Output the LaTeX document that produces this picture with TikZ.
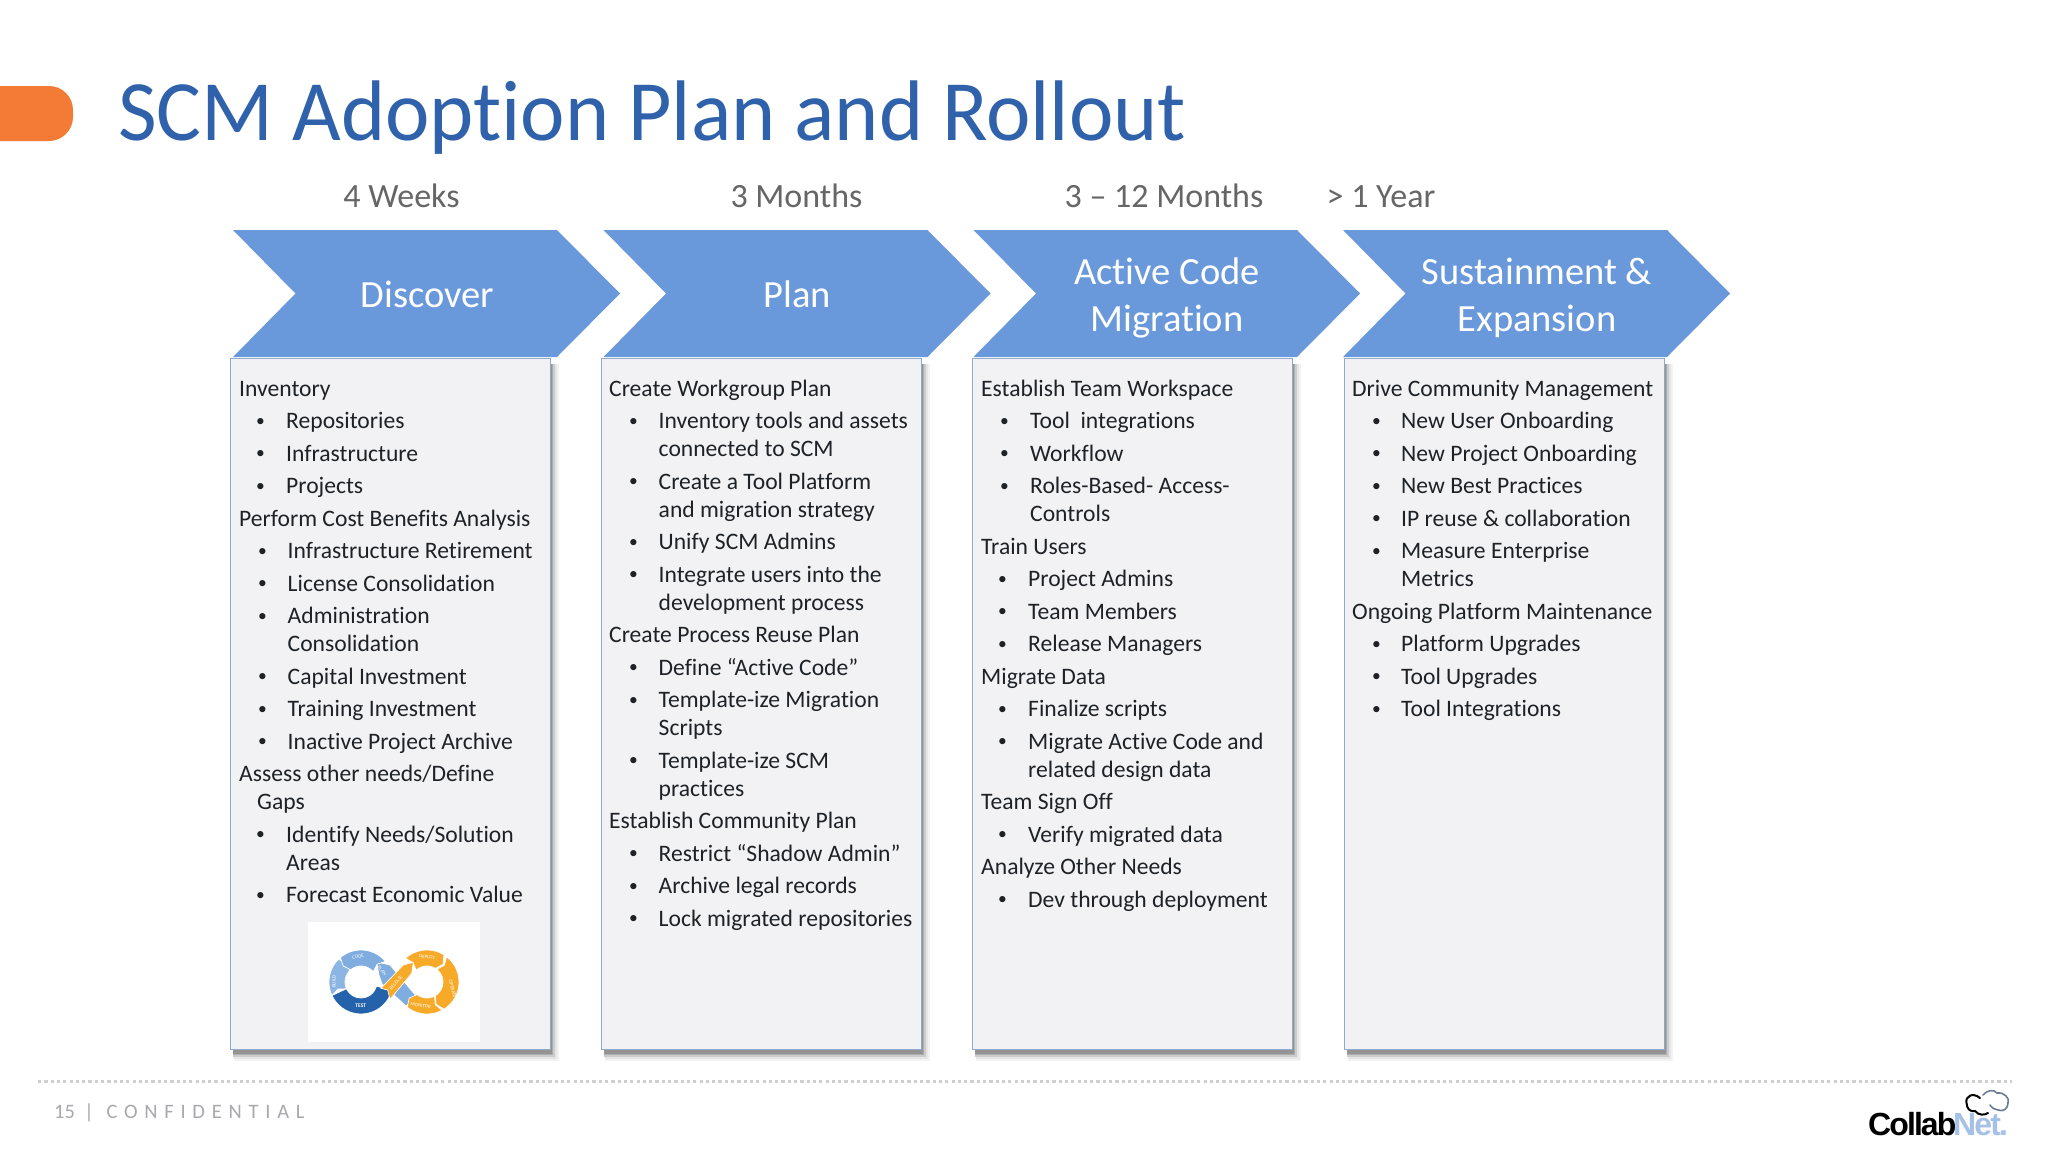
\documentclass[tikz,border=0pt]{standalone}
\usepackage{fontspec}
\setmainfont[Ligatures=NoCommon]{Carlito}
\newfontfamily\titlefont[Ligatures=NoCommon,FakeStretch=0.978]{Carlito}
\newfontfamily\logofont{Liberation Sans}
\definecolor{titleblue}{HTML}{2F62AB}
\definecolor{chev}{HTML}{6A99DB}
\definecolor{orangetab}{HTML}{F47B36}
\definecolor{boxfill}{HTML}{F2F2F5}
\definecolor{boxline}{HTML}{8FAACB}
\definecolor{ink}{HTML}{1E2126}
\definecolor{period}{HTML}{666666}
\definecolor{foot}{HTML}{A9A9AD}
\definecolor{dotline}{HTML}{CFCFCF}
\definecolor{ringlight}{HTML}{7FADE0}
\definecolor{ringdark}{HTML}{2463AC}
\definecolor{ringor}{HTML}{F7A928}
\definecolor{netblue}{HTML}{A6C1E8}
\tikzset{
  chevshape/.style={fill=chev,draw=none},
  chevlabel/.style={text=white,font=\fontsize{38.5}{38.5}\selectfont,anchor=base,inner sep=0pt},
  periodlabel/.style={text=period,font=\fontsize{34}{34}\selectfont,anchor=base,inner sep=0pt},
  bodyline/.style={text=ink,font=\fontsize{23.6}{23.6}\selectfont,anchor=base west,inner sep=0pt},
  bodybullet/.style={text=ink,font=\fontsize{17.5}{17.5}\selectfont,anchor=base,inner sep=0pt},
  boxpanel/.style={fill=boxfill,draw=boxline,line width=1pt},
  ringlabel/.style={text=white,font=\fontsize{5}{5}\selectfont,inner sep=0pt},
}
\newcount\curY
\newcount\lineno
\def\setcol#1#2#3#4{\def\hx{#1}\def\wx{#2}\def\bx{#3}\def\tx{#4}\global\curY=3635\relax}
\def\setb#1#2{\def\bx{#1}\def\tx{#2}}
\def\putline#1#2{\global\advance\lineno by 1\relax
  \node[bodyline] (ln\the\lineno) at ({#1},{\the\curY/10}) {#2};}
\def\Hd#1{\global\advance\curY by 325\relax\putline{\hx}{#1}}
\def\Wh#1{\global\advance\curY by 280\relax\putline{\wx}{#1}}
\def\Bl#1{\global\advance\curY by 325\relax
  \global\advance\lineno by 1\relax
  \node[bodybullet] (bu\the\lineno) at ({\bx},{\the\curY/10}) {\raisebox{2.4pt}{•}};
  \putline{\tx}{#1}}
\def\Wr#1{\global\advance\curY by 280\relax\putline{\tx}{#1}}
\def\ringseg#1#2#3#4#5{% a1 a2 head-offset color tail-offset
  \fill[#4,draw=white,line width=.7pt] plot[domain=#1:#2,samples=16] (\x:32) -- ({#2+#3}:24) -- plot[domain=#2:#1,samples=16] (\x:16) -- ({#1+#5}:24) -- cycle;}
\begin{document}
\begin{tikzpicture}[x=1pt,y=-1pt]
\useasboundingbox (0,0) rectangle (2048,1152);
\fill[white] (0,0) rectangle (2048,1152);

% header
\fill[orangetab,rounded corners=24pt] (-40,86) rectangle (73,141);
\node[text=titleblue,font=\titlefont\fontsize{86}{86}\selectfont,anchor=base west,inner sep=0pt] (title) at (118,140) {SCM Adoption Plan and Rollout};

\node[periodlabel] (p1) at (401.5,207) {4 Weeks};
\node[periodlabel] (p2) at (796.5,207) {3 Months};
\node[periodlabel] (p3) at (1164,207) {3 – 12 Months};
\node[periodlabel] (p4) at (1381,207) {> 1 Year};

% chevrons
\fill[chevshape] (233,230) -- (557,230) -- (620,293.5) -- (557,357) -- (233,357) -- (295.5,293.5) -- cycle;
\fill[chevshape] (603.5,230) -- (927.5,230) -- (990.5,293.5) -- (927.5,357) -- (603.5,357) -- (666,293.5) -- cycle;
\fill[chevshape] (973.5,230) -- (1297,230) -- (1360,293.5) -- (1297,357) -- (973.5,357) -- (1036,293.5) -- cycle;
\fill[chevshape] (1343,230) -- (1667,230) -- (1730,293.5) -- (1667,357) -- (1343,357) -- (1405.5,293.5) -- cycle;
\node[chevlabel] (c1) at (427.5,307) {Discover};
\node[chevlabel] (c2) at (797.5,307) {Plan};
\node[chevlabel] (c3a) at (1167,284) {Active Code};
\node[chevlabel] (c3b) at (1167,331) {Migration};
\node[chevlabel] (c4a) at (1537,284) {Sustainment \&};
\node[chevlabel] (c4b) at (1537,331) {Expansion};

% panels with soft shadow
\foreach \px in {230,601,972,1344}{
  \fill[black!5] ({\px+4},364) rectangle ({\px+329},1061);
  \fill[black!10] ({\px+4},364) rectangle ({\px+327},1059);
  \fill[black!20] ({\px+3},364) rectangle ({\px+325},1057);
  \fill[black!32] ({\px+3},364) rectangle ({\px+323},1055);
  \fill[black!42] ({\px+3},364) rectangle ({\px+322},1054);
  \draw[boxpanel] (\px,358) rectangle ({\px+320},1049);
}

% column 1
\setcol{239}{257}{260.5}{286}
\Hd{Inventory}
\Bl{Repositories}
\Bl{Infrastructure}
\Bl{Projects}
\Hd{Perform Cost Benefits Analysis}
\setb{262.5}{287.5}
\Bl{Infrastructure Retirement}
\Bl{License Consolidation}
\Bl{Administration}
\Wr{Consolidation}
\Bl{Capital Investment}
\Bl{Training Investment}
\Bl{Inactive Project Archive}
\Hd{Assess other needs/Define}
\Wh{Gaps}
\setb{260.5}{286}
\Bl{Identify Needs/Solution}
\Wr{Areas}
\Bl{Forecast Economic Value}

% column 2
\setcol{609}{627}{633.5}{658.5}
\Hd{Create Workgroup Plan}
\Bl{Inventory tools and assets}
\Wr{connected to SCM}
\Bl{Create a Tool Platform}
\Wr{and migration strategy}
\Bl{Unify SCM Admins}
\Bl{Integrate users into the}
\Wr{development process}
\Hd{Create Process Reuse Plan}
\Bl{Define “Active Code”}
\Bl{Template-ize Migration}
\Wr{Scripts}
\Bl{Template-ize SCM}
\Wr{practices}
\Hd{Establish Community Plan}
\Bl{Restrict “Shadow Admin”}
\Bl{Archive legal records}
\Bl{Lock migrated repositories}

% column 3
\setcol{981}{999}{1004.5}{1030}
\Hd{Establish Team Workspace}
\Bl{Tool\ \ integrations}
\Bl{Workflow}
\Bl{Roles-Based- Access-}
\Wr{Controls}
\Hd{Train Users}
\setb{1002.5}{1028}
\Bl{Project Admins}
\Bl{Team Members}
\Bl{Release Managers}
\Hd{Migrate Data}
\Bl{Finalize scripts}
\Bl{Migrate Active Code and}
\Wr{related design data}
\Hd{Team Sign Off}
\Bl{Verify migrated data}
\Hd{Analyze Other Needs}
\Bl{Dev through deployment}

% column 4
\setcol{1352}{1370}{1376.5}{1401}
\Hd{Drive Community Management}
\Bl{New User Onboarding}
\Bl{New Project Onboarding}
\Bl{New Best Practices}
\Bl{IP reuse \& collaboration}
\Bl{Measure Enterprise}
\Wr{Metrics}
\Hd{Ongoing Platform Maintenance}
\Bl{Platform Upgrades}
\Bl{Tool Upgrades}
\Bl{Tool Integrations}

% infinity logo
\fill[white] (308,922) rectangle (480,1042);
\fill[ringlight,draw=white,line width=.7pt] (376.7,962) -- (390,965) -- (416.7,996.7) -- (406,1006) -- (382,984) -- (379,975) -- cycle;
\begin{scope}[shift={(361,982)},y=1pt]
  \ringseg{345}{205}{0}{ringdark}{0}
  \ringseg{135}{205}{-8}{ringlight!90!white}{-8}
  \ringseg{40}{130}{8}{ringlight}{8}
\end{scope}
\begin{scope}[shift={(427,982)},y=1pt]
  \ringseg{132}{58}{-10}{ringor}{-6}
  \ringseg{52}{-58}{-10}{ringor}{-8}
  \ringseg{-62}{-128}{-10}{ringor}{-8}
\end{scope}
\fill[ringor,draw=white,line width=.7pt] (381,988.3) -- (403.3,965) -- (413.3,962.3) -- (411.7,973.3) -- (390,999.3) -- (387.7,990) -- cycle;
\node[ringlabel,rotate=12] (rcode) at (358,956.7) {CODE};
\node[ringlabel,rotate=90] (rbuild) at (334,981.7) {BUILD};
\node[ringlabel,font=\fontsize{5.5}{5.5}\selectfont\bfseries] (rtest) at (360.7,1005.7) {TEST};
\node[ringlabel,rotate=-50] (rplan) at (382,970.7) {PLAN};
\node[ringlabel,rotate=47] (rrelease) at (396,982.7) {RELEASE};
\node[ringlabel,rotate=-5] (rdeploy) at (427,957) {DEPLOY};
\node[ringlabel,rotate=-75] (roperate) at (452.7,989) {OPERATE};
\node[ringlabel,rotate=-8] (rmonitor) at (420.7,1005.7) {MONITOR};

% footer
\draw[dotline,line width=3pt,dash pattern=on 3.2pt off 3.1pt] (38,1081.7) -- (2012,1081.7);
\node[text=foot,font=\fontsize{20.5}{20.5}\selectfont,anchor=base west,inner sep=0pt] (footer) at (54,1118) {15\hspace{9.5pt}|\hspace{12.6pt}{\addfontfeature{LetterSpace=33}CONFIDENTIAL}};

% CollabNet logo
\node[text=black,font=\logofont\bfseries\fontsize{32}{32}\selectfont,anchor=base west,inner sep=0pt] (lg1) at (1868,1135) {\addfontfeature{LetterSpace=-6}Collab};
\node[text=netblue,font=\logofont\bfseries\fontsize{32}{32}\selectfont,anchor=base west,inner sep=0pt] (lg2) at (1953,1135) {\addfontfeature{LetterSpace=-6}Net.};
\draw[black,line width=2pt,line cap=round] (1980,1098) .. controls (1973,1092) and (1965,1096) .. (1966.5,1103) .. controls (1967,1109) and (1970,1112) .. (1975,1111) .. controls (1979,1116) and (1985,1115) .. (1988,1113);
\draw[black!35!netblue,line width=1.6pt,line cap=round] (1983,1095) .. controls (1987,1090) and (1994,1089) .. (1997,1093) .. controls (2004,1092) and (2010,1098) .. (2008,1103) .. controls (2008,1109) and (2003,1112) .. (1998,1110) .. controls (1995,1110) and (1992,1108) .. (1990,1105);
\end{tikzpicture}
\end{document}
